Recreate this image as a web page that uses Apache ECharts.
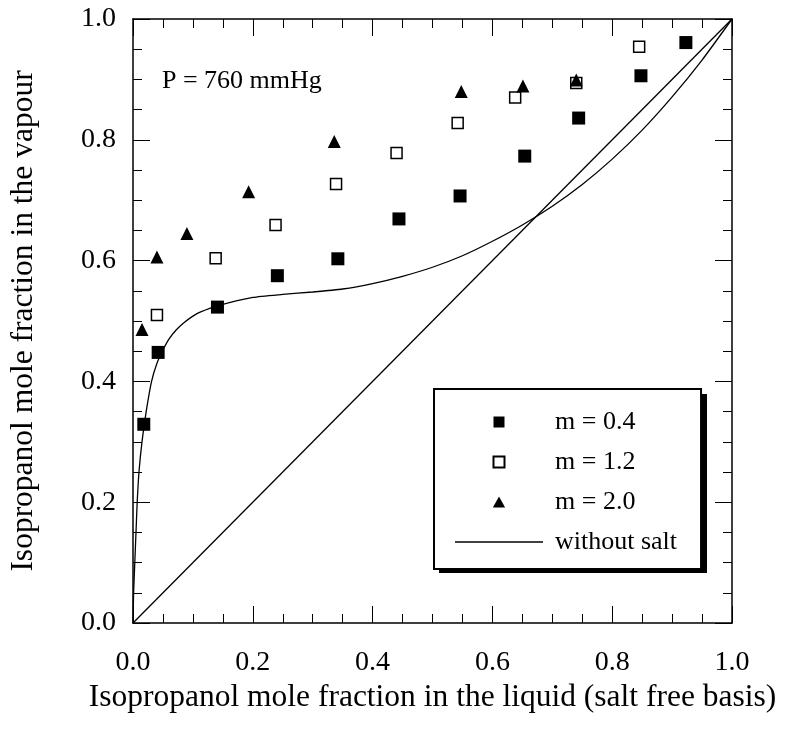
<!DOCTYPE html>
<html>
<head>
<meta charset="utf-8">
<script src="https://cdn.jsdelivr.net/npm/echarts@6/dist/echarts.min.js"></script>
<style>
html, body { margin: 0; padding: 0; background: #fff; }
#main { width: 786px; height: 729px; }
</style>
</head>
<body>
<div id="main"></div>
<script>
// isopropanol - water VLE with salt
var m04X = [0.018, 0.042, 0.141, 0.241, 0.342, 0.444, 0.546, 0.654, 0.744, 0.848, 0.923];
var m04Y = [0.329, 0.448, 0.523, 0.575, 0.603, 0.669, 0.707, 0.773, 0.836, 0.906, 0.961];

var m12X = [0.040, 0.138, 0.238, 0.339, 0.440, 0.542, 0.638, 0.740, 0.845];
var m12Y = [0.510, 0.604, 0.659, 0.727, 0.778, 0.828, 0.870, 0.894, 0.954];

var m20X = [0.015, 0.040, 0.090, 0.193, 0.336, 0.548, 0.651, 0.740];
var m20Y = [0.486, 0.606, 0.645, 0.714, 0.797, 0.880, 0.889, 0.899];

// without salt curve
var noSaltX = [0, 0.001, 0.003, 0.005, 0.007, 0.010, 0.015, 0.022, 0.031, 0.040, 0.049, 0.060, 0.072, 0.085, 0.100, 0.113, 0.141, 0.200, 0.250, 0.300, 0.350, 0.400, 0.450, 0.500, 0.550, 0.600, 0.650, 0.700, 0.750, 0.800, 0.850, 0.900, 0.950, 1.0];
var noSaltY = [0, 0.05, 0.10, 0.15, 0.20, 0.25, 0.30, 0.35, 0.40, 0.43, 0.45, 0.47, 0.485, 0.497, 0.508, 0.515, 0.525, 0.539, 0.544, 0.548, 0.553, 0.562, 0.574, 0.589, 0.608, 0.632, 0.659, 0.690, 0.726, 0.768, 0.816, 0.871, 0.932, 1.0];

var diagX = [0, 1];
var diagY = [0, 1];

var tickLabels = ['0.0', '0.2', '0.4', '0.6', '0.8', '1.0'];

function pairs(xs, ys) {
    var out = [];
    for (var i = 0; i < xs.length; i++) {
        out.push([xs[i], ys[i]]);
    }
    return out;
}

var font = 'Liberation Serif';

function axis(pos, showLabel, name) {
    return {
        type: 'value',
        position: pos,
        min: 0,
        max: 1,
        interval: 0.2,
        name: name || '',
        nameLocation: 'middle',
        nameGap: (pos === 'left') ? 93 : 58,
        nameTextStyle: { fontFamily: font, fontSize: 31.5, color: '#000' },
        axisLine: { show: true, onZero: false, lineStyle: { color: '#000', width: 1.5 } },
        axisTick: { show: true, inside: true, length: 17, lineStyle: { color: '#000', width: 1 } },
        minorTick: { show: true, splitNumber: 4, length: 9, lineStyle: { color: '#000', width: 1 } },
        splitLine: { show: false },
        minorSplitLine: { show: false },
        axisLabel: {
            show: showLabel,
            fontFamily: font,
            fontSize: 28,
            color: '#000',
            margin: (pos === 'left') ? 17 : 26,
            formatter: function (v) {
                return tickLabels[Math.round(v / 0.2)];
            }
        }
    };
}

var squareIcon = 'path://M0,0L10,0L10,10L0,10Z';
var triangleIcon = 'path://M5,0L10,9L0,9Z';
var lineIcon = 'path://M0,0L88,0L88,1.3L0,1.3Z';

var myChart = echarts.init(document.getElementById('main'));

option = {
    backgroundColor: '#fff',
    animation: false,
    grid: { left: 132, right: 54, top: 19, bottom: 106 },
    xAxis: [
        axis('bottom', true, 'Isopropanol mole fraction in the liquid (salt free basis)'),
        axis('top', false)
    ],
    yAxis: [
        axis('left', true, 'Isopropanol mole fraction in the vapour'),
        axis('right', false)
    ],
    legend: {
        orient: 'vertical',
        left: 434,
        top: 389,
        itemWidth: 88,
        itemHeight: 11,
        itemGap: 14,
        padding: [20, 24, 14, 21],
        backgroundColor: '#fff',
        borderColor: '#000',
        borderWidth: 2,
        borderRadius: 0,
        selectedMode: false,
        z: 10,
        textStyle: { fontFamily: font, fontSize: 26, color: '#000', padding: [0, 0, 0, 7] },
        data: [
            { name: 'm = 0.4', icon: squareIcon },
            { name: 'm = 1.2', icon: squareIcon },
            { name: 'm = 2.0', icon: triangleIcon },
            { name: 'without salt', icon: lineIcon }
        ]
    },
    graphic: [
        {
            // drop shadow behind the legend box
            type: 'rect',
            z: 9,
            shape: { x: 439, y: 394, width: 268, height: 179 },
            style: { fill: '#000' }
        },
        {
            type: 'text',
            left: 162,
            top: 68,
            style: { text: 'P = 760 mmHg', fontFamily: font, fontSize: 26, fill: '#000' }
        }
    ],
    series: [
        {
            name: 'diagonal',
            type: 'line',
            data: pairs(diagX, diagY),
            symbol: 'none',
            itemStyle: { color: '#000' },
            lineStyle: { color: '#000', width: 1.3 },
            z: 1
        },
        {
            name: 'without salt',
            type: 'line',
            data: pairs(noSaltX, noSaltY),
            symbol: 'none',
            smooth: 0.2,
            itemStyle: { color: '#000' },
            lineStyle: { color: '#000', width: 1.3 },
            z: 1
        },
        {
            name: 'm = 0.4',
            type: 'scatter',
            data: pairs(m04X, m04Y),
            symbol: 'rect',
            symbolSize: 13,
            itemStyle: { color: '#000', opacity: 1 },
            z: 3
        },
        {
            name: 'm = 1.2',
            type: 'scatter',
            data: pairs(m12X, m12Y),
            symbol: 'rect',
            symbolSize: 11,
            itemStyle: { color: '#fff', borderColor: '#000', borderWidth: 1.5, opacity: 1 },
            z: 3
        },
        {
            name: 'm = 2.0',
            type: 'scatter',
            data: pairs(m20X, m20Y),
            symbol: 'triangle',
            symbolSize: 13,
            itemStyle: { color: '#000', opacity: 1 },
            z: 4
        }
    ]
};

if (option && typeof option === "object") {
    myChart.setOption(option, true);
}
</script>
</body>
</html>
